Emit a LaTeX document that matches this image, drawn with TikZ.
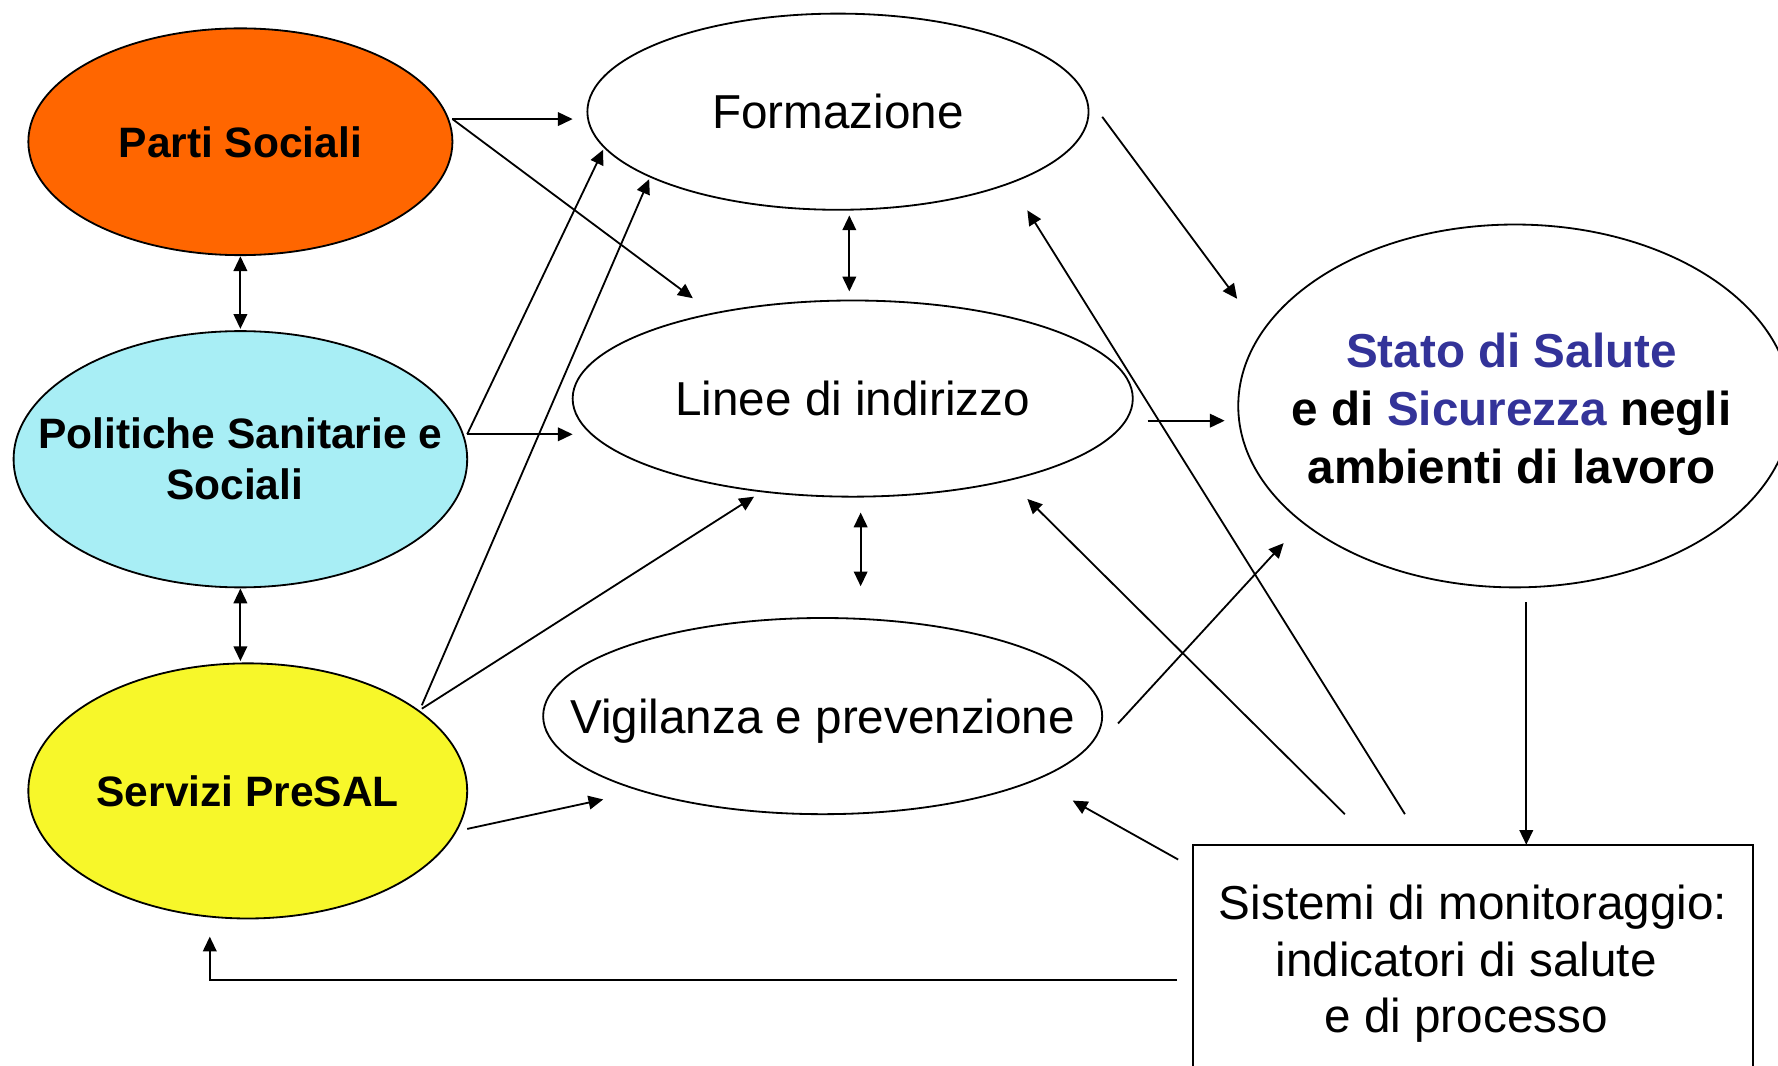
\documentclass[tikz,border=0pt]{standalone}
\usepackage{fontspec}
\setmainfont{Liberation Sans}
\usetikzlibrary{shapes.geometric,arrows.meta}
\definecolor{orangeP}{HTML}{FF6600}
\definecolor{cyanP}{HTML}{A8EEF5}
\definecolor{yellowP}{HTML}{F7F72A}
\definecolor{blueS}{HTML}{333399}
\begin{document}
\begin{tikzpicture}[x=1pt,y=-1pt,
 ell/.style={ellipse,draw,line width=1.6pt,inner sep=0pt},
 lbl/.style={align=center,font=\fontsize{42}{50}\selectfont,inner sep=0pt},
 blbl/.style={align=center,font=\fontsize{37.5}{45}\selectfont\bfseries,inner sep=0pt},
 slbl/.style={align=center,font=\fontsize{42}{51}\selectfont\bfseries,inner sep=0pt},
 arr/.style={-{Triangle[length=13pt,width=12pt]},line width=1.6pt},
 darr/.style={{Triangle[length=13pt,width=12pt]}-{Triangle[length=13pt,width=12pt]},line width=1.6pt}]
\useasboundingbox (0,0) rectangle (1568,940);
\clip (0,0) rectangle (1568,940);
\fill[white] (0,0) rectangle (1568,940);

% ellipses
\node[ell,fill=orangeP,minimum width=374pt,minimum height=200pt] (parti) at (212,125) {};
\node[ell,fill=cyanP,minimum width=400pt,minimum height=226pt] (pol) at (212,405) {};
\node[ell,fill=yellowP,minimum width=387pt,minimum height=225pt] (serv) at (218.5,697.5) {};
\node[ell,minimum width=442pt,minimum height=173pt] (form) at (739,98.5) {};
\node[ell,minimum width=494pt,minimum height=173pt] (linee) at (752,351.5) {};
\node[ell,minimum width=493pt,minimum height=173pt] (vig) at (725.5,631.5) {};
\node[ell,minimum width=488pt,minimum height=320pt] (stato) at (1336,358) {};
\node[draw,line width=1.6pt,minimum width=494pt,minimum height=215pt,inner sep=0pt] (box) at (1299,852.5) {};

% labels
\node[blbl,anchor=base,yshift=-13.5pt] (partit) at (parti) {Parti Sociali};
\node[blbl] (polt) at (pol) {Politiche Sanitarie e\\Sociali\rule{10pt}{0pt}};
\node[blbl,anchor=base,yshift=-13.5pt] (servt) at (serv) {Servizi PreSAL};
\node[lbl,anchor=base,yshift=-15pt] (formt) at (form) {Formazione};
\node[lbl,anchor=base,yshift=-15pt] (lineet) at (linee) {Linee di indirizzo};
\node[lbl,anchor=base,yshift=-15pt] (vigt) at (vig) {Vigilanza e prevenzione};
\node[slbl] (statot) at (1333,360) {\textcolor{blueS}{Stato di Salute}\\e di \textcolor{blueS}{Sicurezza} negli\\ambienti di lavoro};
\node[lbl] (boxt) at (1299,850) {Sistemi di monitoraggio:\\indicatori di salute\rule{12pt}{0pt}\\e di processo\rule{12pt}{0pt}};

% connector end points
\coordinate (a1s) at (399,105); \coordinate (a1e) at (505,105);
\coordinate (a2s) at (399,105); \coordinate (a2e) at (611,263);
\coordinate (a3s) at (212,226); \coordinate (a3e) at (212,290);
\coordinate (a4s) at (212,519); \coordinate (a4e) at (212,583);
\coordinate (a5s) at (412,383); \coordinate (a5e) at (505,383);
\coordinate (a6s) at (412,383); \coordinate (a6e) at (532,132);
\coordinate (a7s) at (372,622); \coordinate (a7e) at (572.5,158);
\coordinate (a8s) at (372,625); \coordinate (a8e) at (665,438);
\coordinate (a9s) at (412,731); \coordinate (a9e) at (532,705);
\coordinate (a10s) at (749,190); \coordinate (a10e) at (749,257);
\coordinate (a11s) at (759,452); \coordinate (a11e) at (759,517);
\coordinate (a12s) at (972,103); \coordinate (a12e) at (1091,263.5);
\coordinate (a13s) at (1012,371); \coordinate (a13e) at (1080,371);
\coordinate (a14s) at (986,638); \coordinate (a14e) at (1132,479);
\coordinate (a15s) at (1346,531); \coordinate (a15e) at (1346,745);
\coordinate (a16s) at (1239,718); \coordinate (a16e) at (906,185.5);
\coordinate (a17s) at (1186,718); \coordinate (a17e) at (906,440);
\coordinate (a18s) at (1039,758); \coordinate (a18e) at (946,706);
\coordinate (a19s) at (1038,864); \coordinate (a19m) at (185,864); \coordinate (a19e) at (185,826);

% connectors
\draw[arr] (a1s) -- (a1e);
\draw[arr] (a2s) -- (a2e);
\draw[darr] (a3s) -- (a3e);
\draw[darr] (a4s) -- (a4e);
\draw[arr] (a5s) -- (a5e);
\draw[arr] (a6s) -- (a6e);
\draw[arr] (a7s) -- (a7e);
\draw[arr] (a8s) -- (a8e);
\draw[arr] (a9s) -- (a9e);
\draw[darr] (a10s) -- (a10e);
\draw[darr] (a11s) -- (a11e);
\draw[arr] (a12s) -- (a12e);
\draw[arr] (a13s) -- (a13e);
\draw[arr] (a14s) -- (a14e);
\draw[arr] (a15s) -- (a15e);
\draw[arr] (a16s) -- (a16e);
\draw[arr] (a17s) -- (a17e);
\draw[arr] (a18s) -- (a18e);
\draw[arr] (a19s) -- (a19m) -- (a19e);
\end{tikzpicture}
\end{document}
